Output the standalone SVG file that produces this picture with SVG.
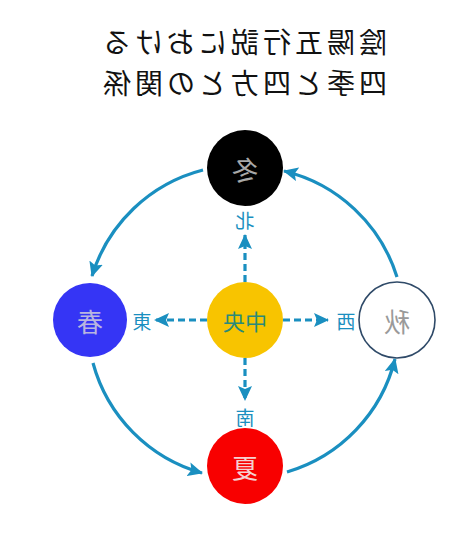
<svg xmlns="http://www.w3.org/2000/svg" width="474" height="536" viewBox="0 0 474 536">
<style>
text{font-family:"Noto Sans CJK JP","Noto Sans CJK SC",sans-serif;text-anchor:middle;dominant-baseline:central}
.title{font-size:28px;fill:#111}
.lab{font-size:26px}
.dir{font-size:19px;fill:#1a8fc0}
.arc{fill:none;stroke:#1a8fc0;stroke-width:3.2}
.dash{fill:none;stroke:#1a8fc0;stroke-width:3.2;stroke-dasharray:7,4}
</style>
<defs>
<marker id="ah" markerUnits="userSpaceOnUse" markerWidth="16" markerHeight="14" refX="14" refY="7" orient="auto">
<path d="M0,0 L15,7 L0,14 L3,7 z" fill="#1a8fc0"/>
</marker>
</defs>
<rect width="474" height="536" fill="#fff"/>
<g id="title">
<text class="title" textLength="284" lengthAdjust="spacing" transform="translate(245,41) scale(-1,1)">陰陽五行説における</text>
<text class="title" textLength="284" lengthAdjust="spacing" transform="translate(245,82) scale(-1,1)">四季と四方との関係</text>
</g>
<g id="connectors">
<path class="arc" d="M203,170 A157,157 0 0 0 92,276" marker-end="url(#ah)"/>
<path class="arc" d="M93,363 A157,157 0 0 0 202,473" marker-end="url(#ah)"/>
<path class="arc" d="M287,472 A157,157 0 0 0 395,359" marker-end="url(#ah)"/>
<path class="arc" d="M397,277 A157,157 0 0 0 284,171" marker-end="url(#ah)"/>
<path class="dash" d="M245,282 L245,235" marker-end="url(#ah)"/>
<path class="dash" d="M245,358 L245,400" marker-end="url(#ah)"/>
<path class="dash" d="M207,320 L155,320" marker-end="url(#ah)"/>
<path class="dash" d="M283,320 L328,320" marker-end="url(#ah)"/>
</g>
<g id="winter">
<circle cx="245" cy="168" r="38" fill="#000"/>
<text class="lab" fill="#a8a8a8" transform="translate(245,168) scale(-1,1)">冬</text>
</g>
<g id="spring">
<circle cx="90" cy="320" r="37" fill="#3535f5"/>
<text class="lab" fill="#b9b5e0" transform="translate(90,320) scale(-1,1)">春</text>
</g>
<g id="center">
<circle cx="245" cy="320" r="38" fill="#f8c400"/>
<text class="lab" fill="#2a8a7a" transform="translate(245,320) scale(-1,1)" style="font-size:22px">中央</text>
</g>
<g id="autumn">
<circle cx="397" cy="320" r="38" fill="#fff" stroke="#2f4a68" stroke-width="1.6"/>
<text class="lab" fill="#9a9a9a" transform="translate(397,320) scale(-1,1)">秋</text>
</g>
<g id="summer">
<circle cx="245" cy="466" r="38" fill="#f80000"/>
<text class="lab" fill="#f5d0d0" transform="translate(245,466) scale(-1,1)">夏</text>
</g>
<g id="dirs">
<text class="dir" transform="translate(245,219) scale(-1,1)">北</text>
<text class="dir" transform="translate(142,320) scale(-1,1)">東</text>
<text class="dir" transform="translate(346,320) scale(-1,1)">西</text>
<text class="dir" transform="translate(245,416) scale(-1,1)">南</text>
</g>
</svg>
